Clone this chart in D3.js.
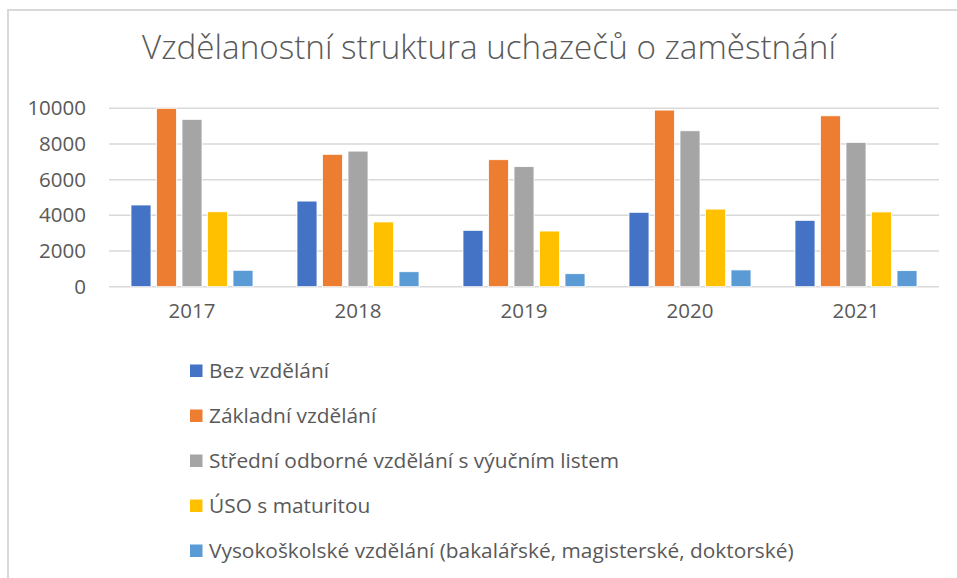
<!DOCTYPE html>
<html>
<head>
<meta charset="utf-8">
<script src="https://cdn.jsdelivr.net/npm/d3@7"></script>
<style>
  body { margin: 0; background: #fff; }
  text { font-family: "Open Sans", "Noto Sans", sans-serif; fill: #595959; }
</style>
</head>
<body>
<div id="chart"></div>
<script>
// Data
const years = ["2017", "2018", "2019", "2020", "2021"];
const seriesNames = [
  "Bez vzdělání",
  "Základní vzdělání",
  "Střední odborné vzdělání s výučním listem",
  "ÚSO s maturitou",
  "Vysokoškolské vzdělání (bakalářské, magisterské, doktorské)"
];
const bezVzdelani = [4580, 4800, 3160, 4170, 3720];
const zakladni = [10000, 7420, 7120, 9900, 9580];
const stredniVyucni = [9380, 7600, 6730, 8740, 8090];
const usoMaturita = [4200, 3630, 3120, 4350, 4190];
const vysokoskolske = [920, 840, 730, 940, 900];
const yTicks = [0, 2000, 4000, 6000, 8000, 10000];
const colors = ["#4472c4", "#ed7d31", "#a5a5a5", "#ffc000", "#5b9bd5"];

const seriesValues = [bezVzdelani, zakladni, stredniVyucni, usoMaturita, vysokoskolske];

const W = 957, H = 578;
const svg = d3.select("#chart")
  .append("svg")
  .attr("width", W)
  .attr("height", H);

// chart area border (only top and left visible in the crop)
svg.append("path")
  .attr("d", "M8,578 L8,10 L957,10")
  .attr("fill", "none")
  .attr("stroke", "#d9d9d9")
  .attr("stroke-width", 2);

// Title, sized to fit the reference width
const title = svg.append("text")
  .attr("x", 489)
  .attr("y", 59)
  .attr("text-anchor", "middle")
  .style("font-weight", 300)
  .style("font-size", "28px")
  .text("Vzdělanostní struktura uchazečů o zaměstnání");
const tw = title.node().getComputedTextLength();
title.style("font-size", (28 * 694 / tw).toFixed(2) + "px");

// Scales
const x0 = d3.scaleBand()
  .domain(years)
  .range([109, 939]);

const x1 = d3.scaleBand()
  .domain(d3.range(seriesNames.length))
  .range([22, 144])
  .paddingInner(0.216);

const y = d3.scaleLinear()
  .domain([0, 10000])
  .range([286.7, 108.3]);

// Gridlines
svg.append("g")
  .selectAll("line")
  .data(yTicks)
  .join("line")
  .attr("x1", 109)
  .attr("x2", 939)
  .attr("y1", d => y(d))
  .attr("y2", d => y(d))
  .attr("stroke", "#d9d9d9")
  .attr("stroke-width", 1.5);

// Y axis labels
const yAxis = svg.append("g")
  .attr("transform", "translate(109,0)")
  .call(d3.axisLeft(y).tickValues(yTicks).tickSize(0).tickPadding(23).tickFormat(d3.format("d")));
yAxis.select(".domain").remove();
yAxis.selectAll("text")
  .attr("fill", "#595959")
  .style("font-family", '"Open Sans", "Noto Sans", sans-serif')
  .style("font-size", "20.5px");

// Bars
const groups = svg.append("g")
  .selectAll("g")
  .data(years)
  .join("g")
  .attr("transform", d => `translate(${x0(d)},0)`);

groups.selectAll("rect")
  .data((d, i) => seriesValues.map((vals, s) => ({ s: s, v: vals[i] })))
  .join("rect")
  .attr("x", d => x1(d.s))
  .attr("width", x1.bandwidth())
  .attr("y", d => y(d.v))
  .attr("height", d => y(0) - y(d.v))
  .attr("fill", d => colors[d.s])
  .attr("stroke", "#fff")
  .attr("stroke-width", 0.8);

// X axis labels
const xAxis = svg.append("g")
  .attr("transform", "translate(0,286.7)")
  .call(d3.axisBottom(x0).tickSize(0).tickPadding(17));
xAxis.select(".domain").remove();
xAxis.selectAll("text")
  .attr("fill", "#595959")
  .style("font-family", '"Open Sans", "Noto Sans", sans-serif')
  .style("font-size", "20.5px");

// Legend
const legendRowY = d3.scalePoint()
  .domain(d3.range(seriesNames.length))
  .range([371, 551]);

const legend = svg.append("g");
const rows = legend.selectAll("g")
  .data(seriesNames)
  .join("g")
  .attr("transform", (d, i) => `translate(190,${legendRowY(i)})`);

rows.append("rect")
  .attr("x", 0)
  .attr("y", -6.5)
  .attr("width", 12.5)
  .attr("height", 12.5)
  .attr("fill", (d, i) => colors[i]);

const legendTexts = rows.append("text")
  .attr("x", 19)
  .attr("dy", "0.35em")
  .style("font-size", "20px")
  .text(d => d);

const lw = legendTexts.nodes()[4].getComputedTextLength();
legendTexts.style("font-size", (20 * 585 / lw).toFixed(2) + "px");
</script>
</body>
</html>
